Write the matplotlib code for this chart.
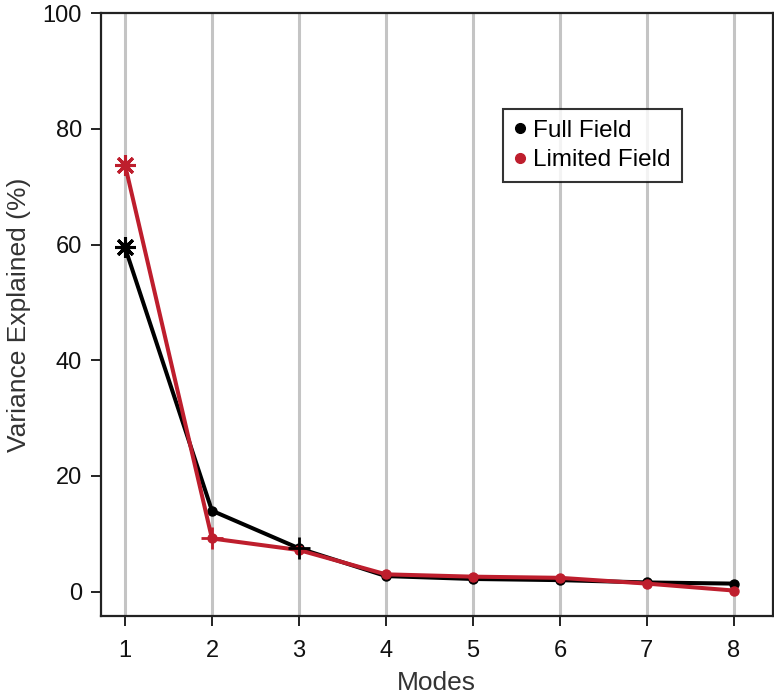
import numpy as np
import matplotlib.pyplot as plt
from matplotlib.lines import Line2D

modes = [1, 2, 3, 4, 5, 6, 7, 8]
full_field = [59.5, 14.0, 7.5, 2.7, 2.2, 2.0, 1.6, 1.4]
limited_field = [73.8, 9.2, 7.2, 3.0, 2.6, 2.4, 1.4, 0.2]

black = '#000000'
red = '#BE1E2D'

plt.rcParams['font.family'] = ['Liberation Sans', 'DejaVu Sans']

fig = plt.figure(figsize=(7.74, 6.97), dpi=100)
ax = fig.add_axes([0.130, 0.1162, 0.8687, 0.8651])

ax.grid(axis='x', color='#c4c4c4', linewidth=2.2, zorder=0)
ax.set_axisbelow(True)

# lines with small dots
ax.plot(modes, full_field, color=black, lw=2.9, marker='o', ms=6.5, zorder=3)
ax.plot(modes, limited_field, color=red, lw=2.9, marker='o', ms=6.5, zorder=4)

# special markers
ax.plot(modes[0], full_field[0], marker=(8, 2, 0), ms=15, mew=2.2, color=black, zorder=5)
ax.plot(modes[0], limited_field[0], marker=(8, 2, 0), ms=15, mew=2.2, color=red, zorder=5)
ax.plot(modes[2], full_field[2], marker='+', ms=16, mew=2, color=black, zorder=5)
ax.plot(modes[1], limited_field[1], marker='+', ms=16, mew=2, color=red, zorder=5)

ax.set_xlim(0.72, 8.45)
ax.set_ylim(-4.2, 100)
ax.set_xticks(modes)
ax.set_yticks([0, 20, 40, 60, 80, 100])
ax.tick_params(direction='out', length=7.5, width=1.3, labelsize=17, pad=6, colors='#111111')
ax.tick_params(axis='x', pad=10)

for s in ax.spines.values():
    s.set_linewidth(1.6)
    s.set_color('#222222')

lab_font = dict(size=19, color='#333333')
ax.set_xlabel('Modes', labelpad=6, **lab_font)
ax.set_ylabel('Variance Explained (%)', labelpad=8, **lab_font)

handles = [Line2D([], [], color=black, marker='o', ls='none', ms=7),
           Line2D([], [], color=red, marker='o', ls='none', ms=7)]
leg = ax.legend(handles, ['Full Field', 'Limited Field'], loc='upper left',
                bbox_to_anchor=(0.598, 0.841), fontsize=17.5, frameon=True,
                fancybox=False, handlelength=0.5, handletextpad=0.3,
                borderpad=0.45, labelspacing=0.3, borderaxespad=0)
leg.get_frame().set_edgecolor('black')
leg.get_frame().set_linewidth(1.5)

fig.savefig('out.png', dpi=100)
